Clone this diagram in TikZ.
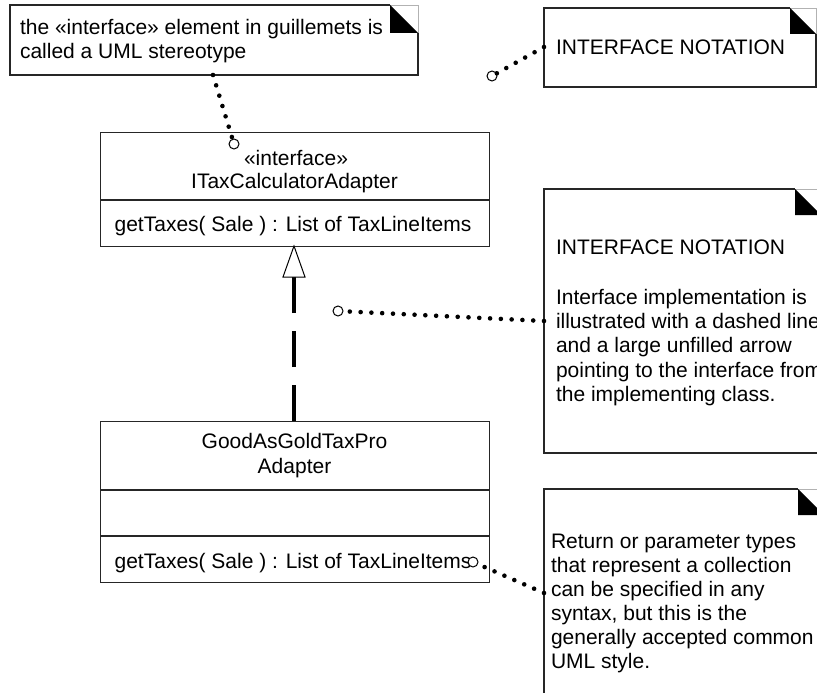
\documentclass[tikz,border=0pt]{standalone}
\usepackage{fontspec}
\setmainfont{Liberation Sans}
\begin{document}
\begin{tikzpicture}[x=1pt,y=-1pt,
  txt/.style={inner sep=0pt,outer sep=0pt,font=\fontsize{21}{24}\selectfont},
  boxline/.style={draw=black!85,line width=1.2pt},
  classbox/.style={boxline,rectangle,inner sep=0pt,anchor=north west},
  noteline/.style={draw=black!85,line width=1.2pt},
  foldline/.style={draw=black!30,line width=0.8pt},
  anchorcircle/.style={circle,draw=black,line width=1pt,fill=white,minimum size=10pt,inner sep=0pt},
  dotline/.style={line width=4.6pt,line cap=round,dash pattern=on 0pt off 10.8pt},
  realize/.style={line width=4pt,dash pattern=on 36pt off 18pt},
  hollowtip/.style={draw=black,line width=1pt,fill=white}]
\clip (0,0) rectangle (817,693);
\fill[white] (0,0) rectangle (817,693);

% ---------- notes ----------
% note 1
\draw[noteline] (390,5) -- (10,5) -- (10,75) -- (418,75) -- (418,33);
\draw[foldline] (390,5) -- (418,5) -- (418,33);
\fill (390,5) -- (390,33) -- (418,33) -- cycle;
\node[txt,anchor=base west] (n1a) at (20,35) {the «interface» element in guillemets is};
\node[txt,anchor=base west] (n1b) at (20,59) {called a UML stereotype};
\coordinate (n1pin) at (213,75);

% note 2
\draw[noteline] (790,8) -- (544,8) -- (544,87) -- (816,87) -- (816,34);
\draw[foldline] (790,8) -- (816,8) -- (816,34);
\fill (790,8) -- (790,34) -- (816,34) -- cycle;
\node[txt,anchor=base west] (n2a) at (556,55) {INTERFACE NOTATION};
\coordinate (n2pin) at (544,47);

% note 3
\draw[noteline] (795,189) -- (544,189) -- (544,453) -- (821,453);
\draw[foldline] (795,189) -- (821,189);
\fill (795,189) -- (795,215) -- (821,215) -- cycle;
\node[txt,anchor=base west] (n3a) at (556,254) {INTERFACE NOTATION};
\node[txt,anchor=base west] (n3b) at (556,304) {Interface implementation is};
\node[txt,anchor=base west] (n3c) at (556,328.4) {illustrated with a dashed line};
\node[txt,anchor=base west] (n3d) at (556,352.8) {and a large unfilled arrow};
\node[txt,anchor=base west] (n3e) at (556,377.2) {pointing to the interface from};
\node[txt,anchor=base west] (n3f) at (556,401.6) {the implementing class.};
\coordinate (n3pin) at (544,321);

% note 4
\draw[noteline] (798,489) -- (544,489) -- (544,700);
\draw[foldline] (798,489) -- (824,489);
\fill (798,489) -- (798,515) -- (824,515) -- cycle;
\node[txt,anchor=base west] (n4a) at (551,548) {Return or parameter types};
\node[txt,anchor=base west] (n4b) at (551,572) {that represent a collection};
\node[txt,anchor=base west] (n4c) at (551,596) {can be specified in any};
\node[txt,anchor=base west] (n4d) at (551,620) {syntax, but this is the};
\node[txt,anchor=base west] (n4e) at (551,644) {generally accepted common};
\node[txt,anchor=base west] (n4f) at (551,668) {UML style.};
\coordinate (n4pin) at (544,593);

% ---------- classes ----------
\node[classbox,minimum width=389pt,minimum height=114pt] (itax) at (100,132) {};
\draw[boxline] (100,200) -- (489,200);
\node[txt,anchor=base] (itaxst) at (296,165) {«interface»};
\node[txt,anchor=base] (itaxname) at (294.5,188) {ITaxCalculatorAdapter};
\node[txt,anchor=base] (itaxop) at (293,231) {getTaxes( Sale ) : List of TaxLineItems};

\node[classbox,minimum width=389pt,minimum height=161pt] (gag) at (100,421) {};
\draw[boxline] (100,490) -- (489,490);
\draw[boxline] (100,536) -- (489,536);
\node[txt,anchor=base] (gagname1) at (294.5,448) {GoodAsGoldTaxPro};
\node[txt,anchor=base] (gagname2) at (294.5,473) {Adapter};
\node[txt,anchor=base] (gagop) at (293,568) {getTaxes( Sale ) : List of TaxLineItems};

% ---------- realization ----------
\coordinate (tip) at (294,246);
\coordinate (base) at (294,277);
\draw[realize] (gag.north -| tip) -- (base);
\draw[hollowtip] (tip) -- (283,277) -- (305,277) -- cycle;

% ---------- note anchors ----------
\node[anchorcircle] (c1) at (234,144) {};
\node[anchorcircle] (c2) at (492,76) {};
\node[anchorcircle] (c3) at (338,311) {};
\node[anchorcircle] (c4) at (473,562) {};
\draw[dotline] (n1pin) -- (c1);
\draw[dotline] (n2pin) -- (c2);
\draw[dotline] (n3pin) -- (c3);
\draw[dotline] (n4pin) -- (c4);
\end{tikzpicture}
\end{document}
